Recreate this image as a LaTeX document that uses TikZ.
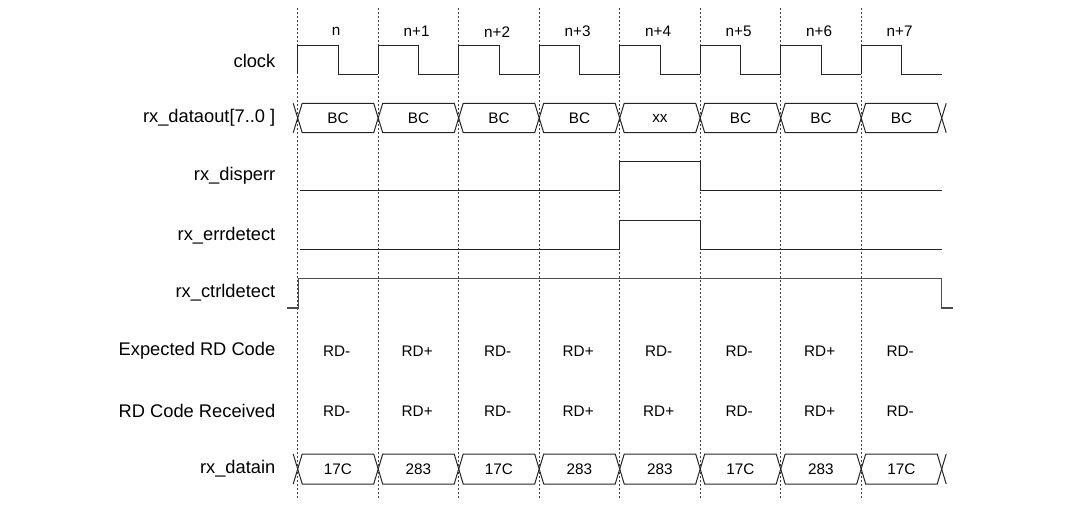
\documentclass[tikz,border=0pt]{standalone}
\usepackage{fontspec}
\setmainfont{Liberation Sans}
\begin{document}
\begin{tikzpicture}[x=1pt,y=-1pt,
  sig/.style={line width=1pt, color=black!85, line join=miter},
  gridline/.style={line width=0.9pt, dash pattern=on 2pt off 2pt, color=black!75},
  lbl/.style={anchor=east, font=\fontsize{18.3}{21}\selectfont, inner sep=0pt},
  val/.style={font=\fontsize{15.3}{18}\selectfont, inner sep=0pt},
]
\useasboundingbox (0,0) rectangle (1067,515);
\def\xa{297.7}
\def\dx{80.5}
% grid
\foreach \k in {0,...,7} \draw[gridline] ({\xa+\k*\dx},8) -- ({\xa+\k*\dx},500);
% row labels
\node[lbl] (lclk) at (275.5,61) {clock};
\node[lbl] (ldout) at (275.5,118) {rx\_dataout[7..0 ]};
\node[lbl] (ldisp) at (275.5,176) {rx\_disperr};
\node[lbl] (lerr) at (275.5,236) {rx\_errdetect};
\node[lbl] (lctrl) at (275.5,293) {rx\_ctrldetect};
\node[lbl] (lexp) at (275.5,351) {Expected RD Code};
\node[lbl] (lrec) at (275.5,411) {RD Code Received};
\node[lbl] (ldin) at (275.5,469) {rx\_datain};
% clock
\foreach \t [count=\k from 0] in {n,n+1,n+2,n+3,n+4,n+5,n+6,n+7} {
  \pgfmathsetmacro\xl{\xa+\k*\dx}
  \pgfmathsetmacro\xm{\xl+40.5}
  \pgfmathsetmacro\xr{\xl+\dx}
  \draw[sig] (\xl,74.3) -- (\xl,45.7) -- (\xm,45.7) -- (\xm,74.3) -- (\xr,74.3);
  \node[val] (cyc\k) at (\xm-2,31.7) {\t};
}
% rx_dataout bus
\draw[sig] (293.2,103.3) -- (\xa,118) -- (293.2,132.7);
\draw[sig] (946.2,103.3) -- (941.7,118) -- (946.2,132.7);
\foreach \t [count=\k from 0] in {BC,BC,BC,BC,xx,BC,BC,BC} {
  \pgfmathsetmacro\xl{\xa+\k*\dx}
  \pgfmathsetmacro\xr{\xl+\dx}
  \draw[sig] (\xl,118) -- (\xl+4.5,103.3) -- (\xr-4.5,103.3) -- (\xr,118) -- (\xr-4.5,132.7) -- (\xl+4.5,132.7) -- cycle;
  \node[val] (dout\k) at ({(\xl+\xr)/2},118) {\t};
}
% rx_disperr
\draw[sig] (300,190.7) -- (619.7,190.7) -- (619.7,161.7) -- (700.2,161.7) -- (700.2,190.7) -- (941.7,190.7);
% rx_errdetect
\draw[sig] (300,249.3) -- (619.7,249.3) -- (619.7,220) -- (700.2,220) -- (700.2,249.3) -- (941.7,249.3);
% rx_ctrldetect
\draw[sig, line width=1.3pt, color=black!70] (286.7,308) -- (298.3,308) -- (298.3,278.7) -- (941.7,278.7) -- (941.7,308) -- (952.7,308);
% RD codes
\foreach \t [count=\k from 0] in {RD-,RD+,RD-,RD+,RD-,RD-,RD+,RD-}
  \node[val] (exp\k) at ({\xa+\k*\dx+39},351) {\t};
\foreach \t [count=\k from 0] in {RD-,RD+,RD-,RD+,RD+,RD-,RD+,RD-}
  \node[val] (rec\k) at ({\xa+\k*\dx+39},411) {\t};
% rx_datain bus
\draw[sig] (293.2,454) -- (\xa,469) -- (293.2,484);
\draw[sig] (946.2,454) -- (941.7,469) -- (946.2,484);
\foreach \t [count=\k from 0] in {17C,283,17C,283,283,17C,283,17C} {
  \pgfmathsetmacro\xl{\xa+\k*\dx}
  \pgfmathsetmacro\xr{\xl+\dx}
  \draw[sig] (\xl,469) -- (\xl+4.5,454) -- (\xr-4.5,454) -- (\xr,469) -- (\xr-4.5,484) -- (\xl+4.5,484) -- cycle;
  \node[val] (din\k) at ({(\xl+\xr)/2},469) {\t};
}
\end{tikzpicture}
\end{document}
